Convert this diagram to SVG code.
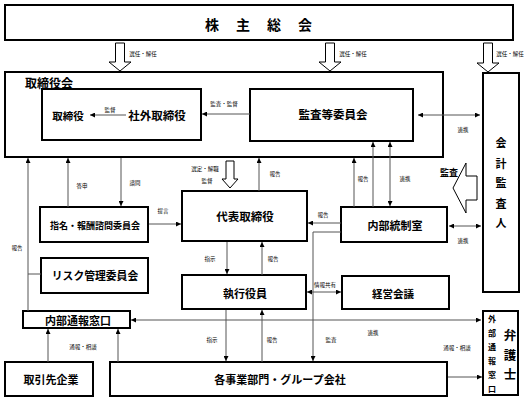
<svg xmlns="http://www.w3.org/2000/svg" width="527" height="401" viewBox="0 0 527 401">
<defs>
<marker id="ah" viewBox="0 0 10 10" refX="10" refY="5" markerWidth="5" markerHeight="5" markerUnits="userSpaceOnUse" orient="auto-start-reverse"><path d="M0,0 L10,5 L0,10 z" fill="#000"/></marker>
<style>
.box{fill:#fff;stroke:#000;stroke-width:2}
.t{font-family:"Noto Sans CJK JP","Noto Sans CJK SC",sans-serif;font-weight:bold;fill:#000;text-anchor:middle;dominant-baseline:central}
.lbl{font-family:"Noto Sans CJK JP","Noto Sans CJK SC",sans-serif;font-size:5.5px;fill:#000;text-anchor:middle;dominant-baseline:central}
.c{fill:none;stroke:#555;stroke-width:1}
.a{marker-end:url(#ah)}
.d{marker-start:url(#ah);marker-end:url(#ah)}
.h{fill:#fff;stroke:#000;stroke-width:1}
</style>
</defs>
<rect width="527" height="401" fill="#fff"/>

<g id="kabunushi">
<rect class="box" x="5" y="5" width="508" height="35"/>
<text class="t" x="205" y="24" style="font-size:14px;letter-spacing:17px;text-anchor:start">株主総会</text>
</g>

<g id="torishimariyakukai">
<rect class="box" x="5" y="72" width="438" height="85"/>
<text class="t" x="49" y="82" style="font-size:12px">取締役会</text>
</g>

<g id="torishimariyaku">
<rect class="box" x="42" y="89" width="159" height="51"/>
<text class="t" x="68" y="115" style="font-size:10.5px">取締役</text>
<text class="t" x="157" y="115" style="font-size:11.5px">社外取締役</text>
</g>

<g id="kansa-iinkai">
<rect class="box" x="250" y="89" width="163" height="52"/>
<text class="t" x="333" y="114" style="font-size:11.5px">監査等委員会</text>
</g>

<g id="kaikei">
<rect class="box" x="483" y="73" width="36" height="219"/>
<text class="t" x="501" y="142" style="font-size:11px">会</text>
<text class="t" x="501" y="163" style="font-size:11px">計</text>
<text class="t" x="501" y="182" style="font-size:11px">監</text>
<text class="t" x="501" y="203" style="font-size:11px">査</text>
<text class="t" x="501" y="222" style="font-size:11px">人</text>
</g>

<g id="shimei">
<rect class="box" x="40" y="207" width="108" height="35"/>
<text class="t" x="95" y="225" style="font-size:9px">指名・報酬諮問委員会</text>
</g>

<g id="daihyo">
<rect class="box" x="182" y="191" width="125" height="50"/>
<text class="t" x="245" y="216" style="font-size:11.5px">代表取締役</text>
</g>

<g id="naibutosei">
<rect class="box" x="341" y="207" width="106" height="35"/>
<text class="t" x="395" y="225" style="font-size:11px">内部統制室</text>
</g>

<g id="risk">
<rect class="box" x="41" y="258" width="107" height="35"/>
<text class="t" x="95" y="275" style="font-size:10.8px">リスク管理委員会</text>
</g>

<g id="shikko">
<rect class="box" x="182" y="275" width="124" height="34"/>
<text class="t" x="245" y="293" style="font-size:11px">執行役員</text>
</g>

<g id="keiei">
<rect class="box" x="342" y="276" width="107" height="33"/>
<text class="t" x="393" y="293" style="font-size:10.5px">経営会議</text>
</g>

<g id="naibutsuho">
<rect class="box" x="23" y="311" width="107" height="17"/>
<text class="t" x="78" y="320" style="font-size:11px">内部通報窓口</text>
</g>

<g id="torihiki">
<rect class="box" x="5" y="362" width="88" height="34"/>
<text class="t" x="51" y="379" style="font-size:11px">取引先企業</text>
</g>

<g id="jigyobu">
<rect class="box" x="110" y="362" width="337" height="34"/>
<text class="t" x="280" y="379" style="font-size:11px">各事業部門・グループ会社</text>
</g>

<g id="gaibu">
<rect class="box" x="483" y="311" width="35" height="84"/>
<text class="t" x="492" y="318" style="font-size:8px">外</text>
<text class="t" x="492" y="332" style="font-size:8px">部</text>
<text class="t" x="492" y="346" style="font-size:8px">通</text>
<text class="t" x="492" y="360" style="font-size:8px">報</text>
<text class="t" x="492" y="374" style="font-size:8px">窓</text>
<text class="t" x="492" y="388" style="font-size:8px">口</text>
<text class="t" x="510" y="334" style="font-size:12.5px">弁</text>
<text class="t" x="510" y="354" style="font-size:12.5px">護</text>
<text class="t" x="510" y="373" style="font-size:12.5px">士</text>
</g>

<g id="connectors">
<path class="h" d="M115.5,43 H124.5 V62 H131 L120,71 L109,62 H115.5 Z"/>
<path class="h" d="M325.5,43 H334.5 V62 H341 L330,71 L319,62 H325.5 Z"/>
<path class="h" d="M483.5,43 H492.5 V63 H499 L488,72 L477,63 H483.5 Z"/>
<path class="h" d="M226,161 H234 V179 H238 L230,188 L222,179 H226 Z"/>
<path class="h" d="M453,188 L466,163 V176 H477 V200 H466 V213 Z"/>

<line class="c a" x1="126" y1="115" x2="90" y2="115"/>
<line class="c a" x1="250" y1="114" x2="202" y2="114"/>
<line class="c d" x1="418" y1="115" x2="480" y2="115"/>
<line class="c a" x1="259" y1="191" x2="259" y2="158"/>
<line class="c a" x1="354" y1="207" x2="354" y2="158"/>
<line class="c a" x1="373" y1="207" x2="373" y2="142"/>
<line class="c d" x1="390" y1="142" x2="390" y2="206"/>
<line class="c a" x1="341" y1="223" x2="308" y2="223"/>
<polyline class="c a" points="341,232 313,232 313,361"/>
<line class="c d" x1="449" y1="226" x2="481" y2="226"/>
<line class="c a" x1="68" y1="207" x2="68" y2="158"/>
<line class="c a" x1="121" y1="158" x2="121" y2="206"/>
<line class="c a" x1="149" y1="224" x2="181" y2="224"/>
<line class="c a" x1="28" y1="311" x2="28" y2="158"/>
<line class="c" x1="28" y1="274" x2="41" y2="274"/>
<line class="c a" x1="227" y1="242" x2="227" y2="274"/>
<line class="c a" x1="262" y1="275" x2="262" y2="242"/>
<line class="c d" x1="307" y1="292" x2="341" y2="292"/>
<line class="c d" x1="131" y1="320" x2="481" y2="320"/>
<line class="c a" x1="226" y1="310" x2="226" y2="361"/>
<line class="c a" x1="262" y1="362" x2="262" y2="310"/>
<line class="c a" x1="48" y1="362" x2="48" y2="329"/>
<line class="c a" x1="118" y1="362" x2="118" y2="329"/>
<line class="c a" x1="448" y1="377" x2="482" y2="377"/>

<text class="lbl" x="143" y="54">選任・解任</text>
<text class="lbl" x="353" y="54">選任・解任</text>
<text class="lbl" x="510" y="54">選任・解任</text>
<text class="lbl" x="110" y="110">監督</text>
<text class="lbl" x="224" y="104">監査・監督</text>
<text class="lbl" x="463" y="130">連携</text>
<text class="lbl" x="205" y="169">選定・解職</text>
<text class="lbl" x="207" y="181">監督</text>
<text class="lbl" x="275" y="174">報告</text>
<text class="lbl" x="363" y="179">報告</text>
<text class="lbl" x="405" y="179">連携</text>
<text class="lbl" x="323" y="215">報告</text>
<text class="lbl" x="463" y="241">連携</text>
<text class="lbl" x="82" y="186">答申</text>
<text class="lbl" x="135" y="183">諮問</text>
<text class="lbl" x="163" y="211">提言</text>
<text class="lbl" x="17" y="248">報告</text>
<text class="lbl" x="210" y="259">指示</text>
<text class="lbl" x="273" y="259">報告</text>
<text class="lbl" x="325" y="285">情報共有</text>
<text class="lbl" x="373" y="333">連携</text>
<text class="lbl" x="212" y="340">指示</text>
<text class="lbl" x="272" y="340">報告</text>
<text class="lbl" x="331" y="340">監査</text>
<text class="lbl" x="83" y="347">通報・相談</text>
<text class="lbl" x="457" y="348">通報・相談</text>
<text class="t" x="449" y="172" style="font-size:9px">監査</text>
</g>
</svg>
